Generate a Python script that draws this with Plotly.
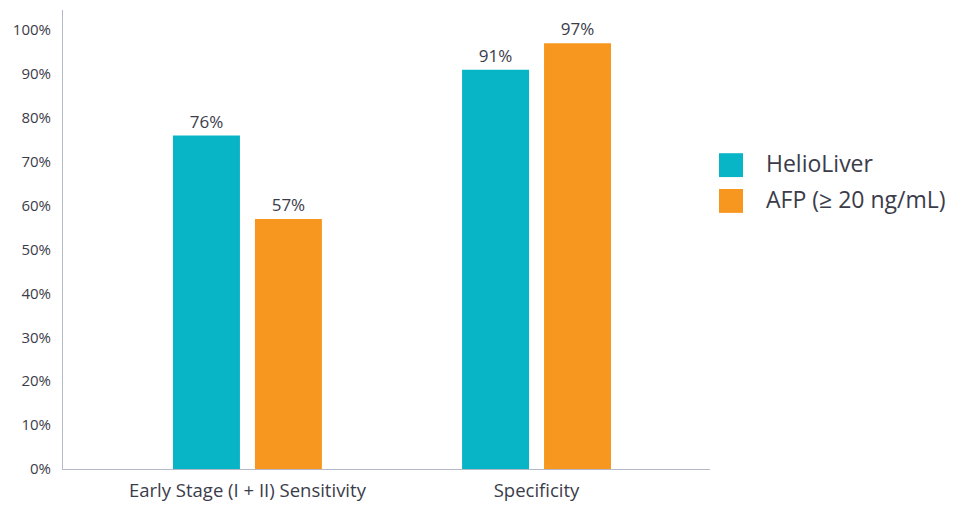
import plotly.graph_objects as go

categories = ["Early Stage (I + II) Sensitivity", "Specificity"]
series_names = ["HelioLiver", "AFP (≥ 20 ng/mL)"]
helioliver = [76, 91]
afp = [57, 97]
colors = ["#07B5C7", "#F7971F"]
y_ticks = [0, 10, 20, 30, 40, 50, 60, 70, 80, 90, 100]
y_tick_labels = [f"{v}%" for v in y_ticks]

FONT = "Open Sans"
TXT = "#3b3c4a"

fig = go.Figure()
for name, vals, col in zip(series_names, [helioliver, afp], colors):
    fig.add_trace(go.Bar(
        x=list(range(len(categories))), y=vals, name=name,
        marker=dict(color=col, line=dict(width=0)),
        text=[f"{v}%" for v in vals], textposition="outside",
        textfont=dict(family=FONT, size=17, color=TXT),
        cliponaxis=False, showlegend=False,
    ))

# manual legend (large square swatches)
for i, (name, col) in enumerate(zip(series_names, colors)):
    y0 = 0.636 - i * 0.078
    fig.add_shape(type="rect", xref="paper", yref="paper",
                  x0=1.0139, x1=1.051, y0=y0, y1=y0 + 0.052,
                  fillcolor=col, line=dict(width=0))
    fig.add_annotation(xref="paper", yref="paper", x=1.083, y=y0 + 0.03,
                       text=name, showarrow=False, xanchor="left", yanchor="middle",
                       font=dict(family=FONT, size=23, color=TXT))

fig.update_layout(
    width=959, height=498,
    margin=dict(l=55, r=257, t=2, b=37, autoexpand=False),
    plot_bgcolor="white", paper_bgcolor="white",
    barmode="group", bargap=0.433, bargroupgap=0.183,
    font=dict(family=FONT, color=TXT),
)
fig.update_xaxes(
    tickmode="array", tickvals=list(range(len(categories))), ticktext=categories,
    range=[-0.638, 1.6], showgrid=False, zeroline=False,
    showline=True, linecolor="#b3b9c6", linewidth=1,
    ticks="", ticklabelstandoff=5, automargin=False,
    tickfont=dict(family=FONT, size=18.5, color=TXT),
)
fig.update_yaxes(
    tickmode="array", tickvals=y_ticks, ticktext=y_tick_labels,
    range=[0, 104.6], showgrid=False, zeroline=False,
    showline=True, linecolor="#b3b9c6", linewidth=1,
    ticks="", ticklabelstandoff=8, automargin=False,
    tickfont=dict(family=FONT, size=15, color=TXT),
)
fig.write_html("out.html")
